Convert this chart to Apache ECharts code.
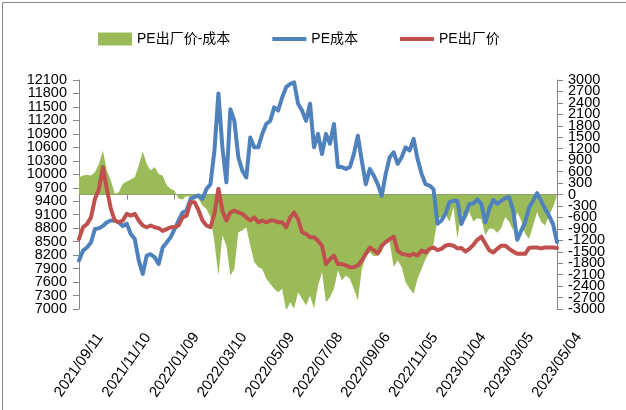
<!DOCTYPE html>
<html>
<head>
<meta charset="utf-8">
<script src="https://cdn.jsdelivr.net/npm/echarts@6/dist/echarts.min.js"></script>
<style>
html,body{margin:0;padding:0;background:#fff;}
#chart{width:626px;height:410px;}
</style>
</head>
<body>
<div id="chart"></div>
<script>
// Sampling: one point every 5 calendar days from 2021/09/11 to 2023/05/04
var startDate = '2021/09/11';
var stepDays = 5;
var tickLabels = ['2021/09/11','2021/11/10','2022/01/09','2022/03/10','2022/05/09','2022/07/08','2022/09/06','2022/11/05','2023/01/04','2023/03/05','2023/05/04'];

var seriesNames = ['PE出厂价-成本', 'PE成本', 'PE出厂价'];

// PE出厂价-成本 (right axis)
var spread = [450,500,515,500,585,800,1150,630,370,20,
  60,280,340,390,450,760,1130,800,630,720,
  540,500,240,150,100,-110,-130,-40,-70,-40,
  -110,-290,-380,-590,-1250,-2120,-1070,-1340,-2120,-1950,
  -990,-940,-860,-1340,-1770,-1900,-1950,-2210,-2340,-2470,
  -2560,-2470,-3050,-2820,-2990,-2560,-2730,-2910,-2650,-2990,
  -2400,-2030,-2820,-2690,-2470,-1990,-2250,-2120,-2210,-2470,
  -2780,-1950,-1640,-1510,-1620,-1600,-1510,-1250,-1250,-1900,
  -1730,-1900,-2300,-2470,-2600,-2210,-1950,-1690,-1510,-1290,
  -640,-590,-510,-720,-330,-1160,-460,-680,-460,-710,
  -620,-640,-1060,-900,-900,-1000,-880,-590,-720,-940,
  -460,-680,-1030,-1160,-810,-460,-720,-810,-550,-330,
  -30];

// PE成本 (left axis)
var cost = [8080,8300,8370,8480,8780,8800,8850,8930,8970,8970,
  8930,8850,8900,8670,8560,8080,7780,8190,8220,8150,
  8000,8370,8480,8600,8780,8970,9150,9190,9450,9490,
  9530,9450,9670,9780,10530,11800,10600,9820,11450,11190,
  10380,10080,9930,10820,10600,10600,10900,11120,11190,11490,
  11420,11710,11940,12010,12050,11570,11420,11190,11570,10600,
  10900,10450,10900,10680,11120,10160,10160,10120,10160,10450,
  10860,10300,9780,10120,9970,9780,9520,10010,10380,10490,
  10230,10380,10600,10530,10790,10340,10010,9780,9750,9670,
  8900,8970,9120,9380,9410,9410,8890,9120,9340,9350,
  9440,9340,8930,9230,9430,9340,9410,9470,9490,9190,
  8540,8740,8930,9260,9410,9580,9410,9230,9080,8890,
  8490];

// PE出厂价 (left axis)
var price = [8560,8820,8890,9040,9450,9670,10160,9670,9230,8970,
  8930,8970,9120,9080,9120,8970,8860,8820,8860,8820,
  8800,8740,8780,8820,8820,8860,9040,9080,9380,9380,
  9200,8970,8860,8820,9120,9680,9190,8970,9150,9190,
  9150,9120,9040,8970,9040,8930,8970,8930,8970,8970,
  8930,8930,8820,9040,9150,9000,8710,8670,8600,8600,
  8520,8410,8000,8110,8190,8000,8000,7970,7930,7930,
  7970,8080,8230,8370,8310,8240,8410,8490,8560,8610,
  8300,8230,8210,8190,8230,8190,8300,8260,8340,8370,
  8310,8340,8410,8430,8410,8350,8360,8280,8340,8430,
  8540,8610,8460,8310,8260,8340,8410,8410,8340,8280,
  8230,8230,8230,8360,8370,8370,8350,8370,8370,8370,
  8360];

var leftRange = [7000, 12100];
var rightRange = [-3000, 3000];
var yStep = 300;

function pad(n){return (n<10?'0':'')+n;}
var categories = [];
(function(){
  var p = startDate.split('/');
  var t0 = Date.UTC(+p[0], +p[1]-1, +p[2]);
  for (var i = 0; i < cost.length; i++) {
    var d = new Date(t0 + i*stepDays*86400000);
    categories.push(d.getUTCFullYear()+'/'+pad(d.getUTCMonth()+1)+'/'+pad(d.getUTCDate()));
  }
})();

var chart = echarts.init(document.getElementById('chart'), null, {renderer:'canvas'});
var axisColor = '#868686';
var fontFam = '"Liberation Sans", "Noto Sans CJK SC", sans-serif';
var lineIcon = 'path://M0,0L34,0L34,4L0,4Z';

// main axis shows inner labels, overlay axis shows the end labels (avoids overlap-hiding)
function makeAxis(pos, range, margin, ends) {
  return {
    type: 'value', position: pos,
    min: range[0], max: range[1], interval: yStep,
    axisLine: {show: !ends, lineStyle: {color: axisColor}},
    axisTick: {show: true, length: 6, lineStyle: {color: axisColor}},
    axisLabel: {
      fontSize: 14.5, color: '#000', margin: margin, fontFamily: fontFam,
      showMinLabel: ends, showMaxLabel: ends,
      formatter: function(v){
        var isEnd = (v === range[0] || v === range[1]);
        return (isEnd === ends) ? String(v) : '';
      }
    },
    splitLine: {show: false}
  };
}

chart.setOption({
  animation: false,
  backgroundColor: '#fff',
  textStyle: {fontFamily: fontFam},
  graphic: [{
    type: 'rect', left: 0, top: 0, z: -1,
    shape: {x: 0.5, y: 0.5, width: 625, height: 409},
    style: {fill: 'none', stroke: axisColor, lineWidth: 1}
  }],
  legend: {
    left: 93, top: 27,
    itemWidth: 34, itemHeight: 13, itemGap: 42,
    textStyle: {fontSize: 14, color: '#000', fontFamily: fontFam},
    data: [
      {name: seriesNames[0], icon: 'rect'},
      {name: seriesNames[1], icon: lineIcon},
      {name: seriesNames[2], icon: lineIcon}
    ]
  },
  grid: {left: 79, right: 69, top: 80, bottom: 101, containLabel: false},
  xAxis: {
    type: 'category',
    data: categories,
    boundaryGap: false,
    axisLine: {lineStyle: {color: axisColor, width: 1}},
    axisTick: {show: true, interval: 11, length: 5, lineStyle: {color: axisColor}},
    axisLabel: {
      interval: 11, rotate: 55, color: '#000', fontSize: 15, margin: 56,
      align: 'center', verticalAlign: 'middle',
      showMinLabel: true, showMaxLabel: true,
      formatter: function(v){ return tickLabels.indexOf(v) >= 0 ? v : ''; }
    },
    splitLine: {show: false}
  },
  yAxis: [
    makeAxis('left', leftRange, 12, false),
    makeAxis('right', rightRange, 11, false),
    makeAxis('left', leftRange, 12, true),
    makeAxis('right', rightRange, 11, true)
  ],
  series: [{
    name: seriesNames[0], type: 'line', yAxisIndex: 1,
    data: spread, symbol: 'none', showSymbol: false,
    itemStyle: {color: '#9BBB59'},
    lineStyle: {width: 0, color: '#9BBB59'},
    areaStyle: {color: '#9BBB59', opacity: 1},
    z: 1
  }, {
    name: seriesNames[1], type: 'line', yAxisIndex: 0,
    data: cost, symbol: 'none', showSymbol: false,
    itemStyle: {color: '#4F81BD'},
    lineStyle: {width: 4, color: '#4F81BD', cap: 'round', join: 'round'},
    z: 2
  }, {
    name: seriesNames[2], type: 'line', yAxisIndex: 0,
    data: price, symbol: 'none', showSymbol: false,
    itemStyle: {color: '#C0504D'},
    lineStyle: {width: 4, color: '#C0504D', cap: 'round', join: 'round'},
    z: 3
  }]
});
</script>
</body>
</html>
